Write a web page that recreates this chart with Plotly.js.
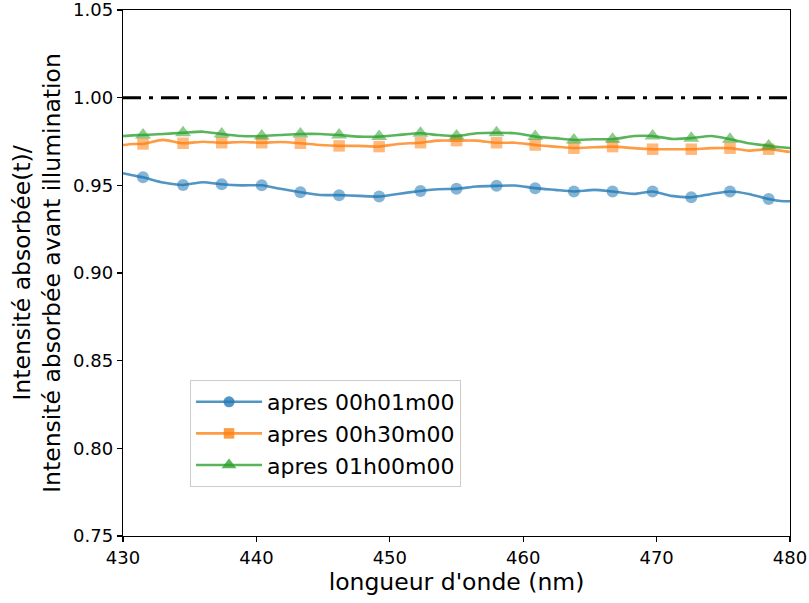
<!DOCTYPE html>
<html>
<head>
<meta charset="utf-8">
<script src="https://cdn.plot.ly/plotly-3.0.1.min.js"></script>
<style>html,body{margin:0;padding:0;background:#fff;}#chart{width:809px;height:603px;}</style>
</head>
<body>
<div id="chart"></div>
<script>
// Wavelengths (nm) at which the curves were read
const wavelength = [430, 430.7, 431.5, 433.0, 434.5, 436.0, 437.4, 438.9, 440.4, 441.8, 443.3, 444.8, 446.2, 447.7, 449.2, 450.6, 452.3, 453.6, 455.0, 456.5, 458.0, 459.4, 460.9, 462.4, 463.8, 465.3, 466.7, 468.3, 469.7, 471.1, 472.6, 474.1, 475.5, 476.9, 478.4, 479.3, 480];
// Wavelengths where matplotlib drew a marker
const markerWavelengths = [431.5, 434.5, 437.4, 440.4, 443.3, 446.2, 449.2, 452.3, 455.0, 458.0, 460.9, 463.8, 466.7, 469.7, 472.6, 475.5, 478.4];

const seriesNames = ["apres 00h01m00", "apres 00h30m00", "apres 01h00m00"];
const ratio_00h01 = [0.9569, 0.9557, 0.9546, 0.9516, 0.9502, 0.9518, 0.9506, 0.9500, 0.9500, 0.9480, 0.9461, 0.9445, 0.9444, 0.9440, 0.9436, 0.9451, 0.9468, 0.9478, 0.9480, 0.9493, 0.9497, 0.9499, 0.9484, 0.9474, 0.9465, 0.9474, 0.9465, 0.9451, 0.9465, 0.9440, 0.9432, 0.9451, 0.9465, 0.9451, 0.9422, 0.9411, 0.9409];
const ratio_00h30 = [0.9730, 0.9736, 0.9736, 0.9759, 0.9740, 0.9749, 0.9743, 0.9747, 0.9743, 0.9747, 0.9740, 0.9730, 0.9725, 0.9725, 0.9721, 0.9736, 0.9743, 0.9755, 0.9755, 0.9755, 0.9743, 0.9743, 0.9730, 0.9721, 0.9712, 0.9717, 0.9721, 0.9712, 0.9706, 0.9706, 0.9706, 0.9712, 0.9712, 0.9698, 0.9706, 0.9698, 0.9690];
const ratio_01h00 = [0.9781, 0.9785, 0.9787, 0.9793, 0.9800, 0.9806, 0.9793, 0.9781, 0.9781, 0.9787, 0.9793, 0.9793, 0.9787, 0.9778, 0.9778, 0.9787, 0.9797, 0.9787, 0.9781, 0.9797, 0.9800, 0.9797, 0.9778, 0.9769, 0.9759, 0.9763, 0.9763, 0.9781, 0.9781, 0.9765, 0.9769, 0.9781, 0.9763, 0.9740, 0.9725, 0.9717, 0.9713];
const referenceLevel = [1.0, 1.0];
const referenceRange = [430, 480];

const yTickVals = [0.75, 0.80, 0.85, 0.90, 0.95, 1.00, 1.05];
const yTickText = ["0.75", "0.80", "0.85", "0.90", "0.95", "1.00", "1.05"];
const xTickVals = [430, 440, 450, 460, 470, 480];

const colors = ["rgba(31,119,180,0.78)", "rgba(255,127,14,0.78)", "rgba(44,160,44,0.78)"];
const symbols = ["circle", "square", "triangle-up"];
const symbolSizes = [12, 11.5, 14];

const allSeries = [ratio_00h01, ratio_00h30, ratio_01h00];
const traces = allSeries.map((ys, i) => ({
  type: "scatter",
  mode: "lines+markers",
  x: wavelength,
  y: ys,
  name: seriesNames[i],
  legendgroup: "g" + i,
  showlegend: false,
  line: {color: colors[i], width: 2.6, shape: "spline", smoothing: 0.6},
  marker: {
    color: colors[i], symbol: symbols[i], line: {width: 0},
    size: wavelength.map(w => markerWavelengths.some(m => Math.abs(m - w) < 1e-6) ? symbolSizes[i] : 0)
  }
}));
traces.push({
  type: "scatter", mode: "lines",
  x: referenceRange, y: referenceLevel,
  showlegend: false, hoverinfo: "skip",
  line: {color: "#000000", width: 3, dash: "18px,8px,4px,8px"}
});
// legend entries (line + marker sample, no data)
seriesNames.forEach((name, i) => traces.push({
  type: "scatter", mode: "lines+markers",
  x: [null], y: [null],
  name: name, legendgroup: "g" + i, showlegend: true,
  line: {color: colors[i], width: 2.6},
  marker: {color: colors[i], symbol: symbols[i], size: symbolSizes[i] - 1, line: {width: 0}}
}));

const font = {family: "DejaVu Sans, Liberation Sans, sans-serif", color: "#000000"};
const layout = {
  width: 809, height: 603,
  margin: {l: 123, r: 19, t: 10, b: 67, pad: 0},
  paper_bgcolor: "#ffffff", plot_bgcolor: "#ffffff",
  font: Object.assign({size: 18}, font),
  showlegend: true,
  legend: {
    x: 0.1005, y: 0.2966, xanchor: "left", yanchor: "top",
    bgcolor: "rgba(255,255,255,0.8)", bordercolor: "#cccccc", borderwidth: 1,
    font: Object.assign({size: 22}, font),
    itemwidth: 66, tracegroupgap: 0, itemsizing: "trace"
  },
  xaxis: {
    range: [430, 480], tickvals: xTickVals,
    showgrid: false, zeroline: false,
    showline: true, mirror: true, linecolor: "#000000", linewidth: 1.3,
    ticks: "outside", ticklen: 5, tickwidth: 1.3, tickcolor: "#000000",
    ticklabeloverflow: "allow",
    tickfont: Object.assign({size: 18}, font),
    title: {text: "longueur d'onde (nm)", font: Object.assign({size: 23.5}, font), standoff: 6}
  },
  yaxis: {
    range: [0.75, 1.05], tickvals: yTickVals, ticktext: yTickText,
    showgrid: false, zeroline: false,
    showline: true, mirror: true, linecolor: "#000000", linewidth: 1.3,
    ticks: "outside", ticklen: 5, tickwidth: 1.3, tickcolor: "#000000",
    ticklabeloverflow: "allow",
    tickfont: Object.assign({size: 18}, font),
    title: {text: "Intensité absorbée(t)/<br>Intensité absorbée avant illumination", font: Object.assign({size: 23.5}, font), standoff: 5}
  }
};

Plotly.newPlot("chart", traces, layout, {displayModeBar: false, staticPlot: true});
</script>
</body>
</html>
